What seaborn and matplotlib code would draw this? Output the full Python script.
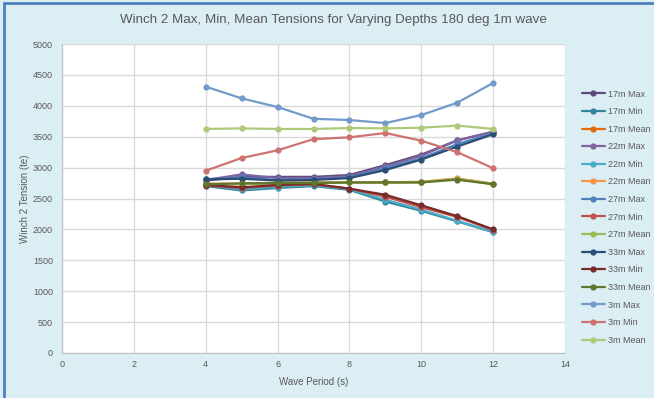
import matplotlib
matplotlib.use("Agg")
import matplotlib.pyplot as plt
import seaborn as sns
import pandas as pd
from matplotlib.lines import Line2D

periods = [4, 5, 6, 7, 8, 9, 10, 11, 12]

series_names = ["17m Max", "17m Min", "17m Mean",
                "22m Max", "22m Min", "22m Mean",
                "27m Max", "27m Min", "27m Mean",
                "33m Max", "33m Min", "33m Mean",
                "3m Max", "3m Min", "3m Mean"]

d17_max = [2790, 2850, 2850, 2850, 2880, 3040, 3210, 3440, 3580]
d17_min = [2700, 2630, 2670, 2700, 2640, 2450, 2300, 2130, 1955]
d17_mean = [2730, 2730, 2750, 2755, 2760, 2760, 2765, 2820, 2735]
d22_max = [2800, 2890, 2830, 2830, 2860, 3020, 3190, 3440, 3580]
d22_min = [2720, 2650, 2690, 2715, 2650, 2480, 2320, 2140, 1960]
d22_mean = [2740, 2740, 2755, 2760, 2765, 2765, 2770, 2825, 2740]
d27_max = [2810, 2840, 2800, 2810, 2840, 2990, 3150, 3380, 3555]
d27_min = [2710, 2670, 2710, 2730, 2660, 2530, 2360, 2200, 1990]
d27_mean = [2735, 2735, 2750, 2755, 2760, 2760, 2765, 2815, 2735]
d33_max = [2810, 2820, 2790, 2800, 2830, 2960, 3130, 3340, 3540]
d33_min = [2720, 2680, 2720, 2735, 2660, 2560, 2390, 2215, 2000]
d33_mean = [2730, 2745, 2750, 2750, 2760, 2760, 2760, 2805, 2730]
d3_max = [4310, 4120, 3980, 3790, 3770, 3720, 3850, 4050, 4370]
d3_min = [2950, 3155, 3280, 3460, 3490, 3560, 3435, 3250, 2990]
d3_mean = [3625, 3635, 3625, 3625, 3640, 3635, 3645, 3680, 3625]

series_values = [d17_max, d17_min, d17_mean, d22_max, d22_min, d22_mean,
                 d27_max, d27_min, d27_mean, d33_max, d33_min, d33_mean,
                 d3_max, d3_min, d3_mean]

colors = ["#604A7B", "#31859C", "#E46C0A",
          "#8064A2", "#4BACC6", "#F79646",
          "#4F81BD", "#C0504D", "#9BBB59",
          "#2C4D75", "#772C2A", "#5F7530",
          "#729ACA", "#CD7371", "#AFC97A"]

x_ticks = [0, 2, 4, 6, 8, 10, 12, 14]
y_ticks = [0, 500, 1000, 1500, 2000, 2500, 3000, 3500, 4000, 4500, 5000]

rows = []
for name, vals in zip(series_names, series_values):
    for p, v in zip(periods, vals):
        rows.append({"period": p, "tension": v, "series": name})
df = pd.DataFrame(rows)

sns.set_style("white")
plt.rcParams["font.family"] = ["Liberation Sans", "DejaVu Sans"]

bg = "#DBEEF4"
txt = "#595959"
fig = plt.figure(figsize=(6.54, 3.98), dpi=100, facecolor=bg)
ax = fig.add_axes([62 / 654, 1 - 353 / 398, (565 - 62) / 654, (353 - 44) / 398])
ax.set_facecolor("white")

palette = dict(zip(series_names, colors))
for name in series_names:
    sub = df[df["series"] == name]
    sns.lineplot(data=sub, x="period", y="tension", color=palette[name],
                 marker="o", markersize=4.5, markeredgewidth=0, linewidth=1.6,
                 ax=ax, legend=False)

ax.set_xlim(0, 14)
ax.set_ylim(0, 5000)
ax.set_xticks(x_ticks)
ax.set_yticks(y_ticks)
ax.tick_params(axis="both", labelsize=6.5, colors=txt, length=3, width=0.6, color="#BFBFBF")
ax.tick_params(axis="x", length=0, pad=5)
ax.grid(True, color="#D9D9D9", linewidth=1.0)
for s in ["top", "right"]:
    ax.spines[s].set_visible(False)
for s in ["left", "bottom"]:
    ax.spines[s].set_color("#BFBFBF")
    ax.spines[s].set_linewidth(0.8)

ax.set_xlabel("Wave Period (s)", fontsize=7, color=txt, labelpad=6)
ax.set_ylabel("Winch 2 Tension (te)", fontsize=7, color=txt, labelpad=2)
fig.text(333 / 654, 1 - 20 / 398, "Winch 2 Max, Min, Mean Tensions for Varying Depths 180 deg 1m wave",
         ha="center", va="center", fontsize=9.6, color=txt)

handles = [Line2D([0], [0], color=c, marker="o", markersize=4.5, markeredgewidth=0, linewidth=1.6)
           for c in colors]
leg = fig.legend(handles, series_names, loc="upper left", bbox_to_anchor=(578 / 654, 1 - 86 / 398),
                 frameon=False, fontsize=6.5, labelcolor=txt, handlelength=2.6,
                 handletextpad=0.3, labelspacing=0.95, borderaxespad=0)

fig.add_artist(Line2D([0.006, 1], [1 - 3 / 398, 1 - 3 / 398], transform=fig.transFigure,
                      color="#4F81BD", linewidth=2))
fig.add_artist(Line2D([0.006, 0.006], [0, 1 - 3 / 398], transform=fig.transFigure,
                      color="#4F81BD", linewidth=2))

fig.savefig("out.png", dpi=100, facecolor=bg)
